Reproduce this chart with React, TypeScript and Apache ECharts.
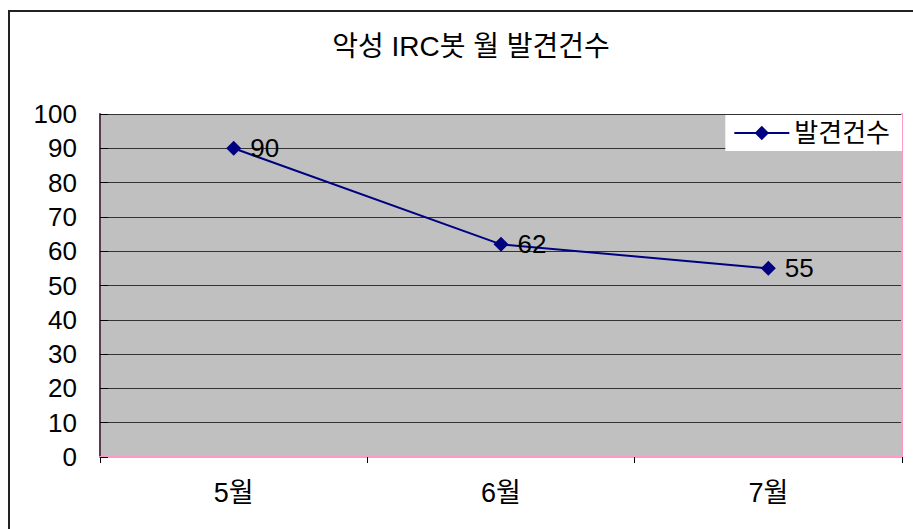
import React, { useEffect, useRef } from "react";
import * as echarts from "echarts";

const titleText = "악성 IRC봇 월 발견건수";
const categories = ["5월", "6월", "7월"];
const seriesName = "발견건수";
const values = [90, 62, 55];
const yMin = 0;
const yMax = 100;
const yInterval = 10;

const FONT = "'Liberation Sans', 'Noto Sans CJK KR', sans-serif";

export default function App() {
  const ref = useRef<HTMLDivElement>(null);
  useEffect(() => {
    if (!ref.current) return;
    const chart = echarts.init(ref.current, undefined, { renderer: "svg" });
    chart.setOption({
      animation: false,
      backgroundColor: "#ffffff",
      textStyle: { fontFamily: FONT },
      title: {
        text: titleText,
        left: 466,
        top: 27,
        textAlign: "center",
        textStyle: { fontSize: 28, fontWeight: "normal", color: "#000", fontFamily: FONT },
      },
      graphic: [
        {
          type: "rect",
          shape: { x: 9, y: 11, width: 1000, height: 1000 },
          style: { fill: "none", stroke: "#222", lineWidth: 2 },
          silent: true,
          z: -1,
        },
      ],
      legend: {
        data: [seriesName],
        right: 11,
        top: 115,
        backgroundColor: "#ffffff",
        padding: [5, 12, 5, 8],
        itemWidth: 55,
        itemHeight: 18,
        itemGap: 6,
        lineStyle: { width: 2 },
        textStyle: { fontSize: 26, color: "#000", fontFamily: FONT },
      },
      grid: {
        left: 100,
        top: 114,
        right: 11,
        bottom: 72,
        show: true,
        backgroundColor: "#C0C0C0",
        borderWidth: 0,
      },
      xAxis: [
        {
          type: "category",
          data: categories,
          boundaryGap: true,
          axisLine: { show: true, lineStyle: { color: "#8B3A62", width: 2 } },
          axisTick: { show: true, inside: false, length: 6, lineStyle: { color: "#000" } },
          axisLabel: { fontSize: 27, color: "#000", margin: 22, fontFamily: FONT },
          splitLine: { show: false },
        },
        {
          type: "category",
          data: categories,
          position: "top",
          axisLine: { show: true, lineStyle: { color: "#FF99CC", width: 2 } },
          axisTick: { show: false },
          axisLabel: { show: false },
        },
      ],
      yAxis: [
        {
          type: "value",
          min: yMin,
          max: yMax,
          interval: yInterval,
          axisLine: { show: true, lineStyle: { color: "#5a3a50", width: 2 } },
          axisTick: { show: true, inside: true, length: 8, lineStyle: { color: "#000" } },
          axisLabel: { fontSize: 26, color: "#000", margin: 23, fontFamily: FONT },
          splitLine: { show: true, lineStyle: { color: "#333", width: 1 } },
        },
        {
          type: "value",
          min: yMin,
          max: yMax,
          interval: yInterval,
          position: "right",
          axisLine: { show: true, lineStyle: { color: "#FF99CC", width: 2 } },
          axisTick: { show: false },
          axisLabel: { show: false },
          splitLine: { show: false },
        },
      ],
      series: [
        {
          name: seriesName,
          type: "line",
          data: values,
          symbol: "diamond",
          symbolSize: 15,
          itemStyle: { color: "#000080" },
          lineStyle: { color: "#000080", width: 2 },
          label: {
            show: true,
            position: "right",
            distance: 9,
            fontSize: 26,
            color: "#000",
            fontFamily: FONT,
          },
        },
      ],
    });
    return () => chart.dispose();
  }, []);
  return (
    <div
      ref={ref}
      style={{ position: "fixed", left: 0, top: 0, width: 913, height: 529 }}
    />
  );
}
